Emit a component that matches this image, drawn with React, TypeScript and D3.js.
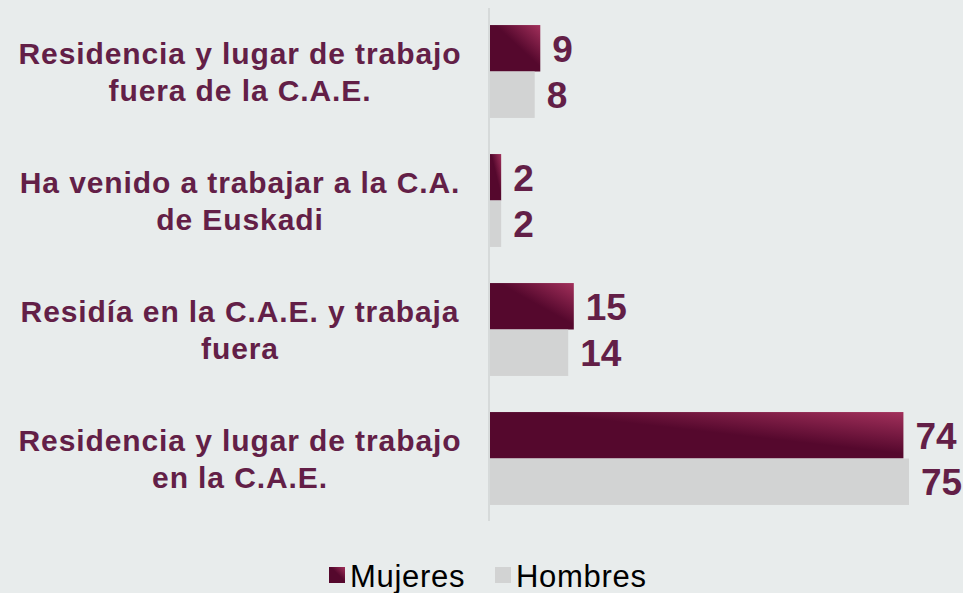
import * as d3 from 'd3';
import { useEffect, useRef } from 'react';

const categories = [
    'Residencia y lugar de trabajo|fuera de la C.A.E.',
    'Ha venido a trabajar a la C.A.|de Euskadi',
    'Residía en la C.A.E. y trabaja|fuera',
    'Residencia y lugar de trabajo|en la C.A.E.',
];
const mujeres = [9, 2, 15, 74];
const hombres = [8, 2, 14, 75];
const seriesNames = ['Mujeres', 'Hombres'];

const W = 963;
const H = 593;
const textColor = '#631f47';

export default function App() {
    const svgRef = useRef<SVGSVGElement>(null);

    useEffect(() => {
        const svg = d3.select(svgRef.current);
        svg.selectAll('*').remove();

        const defs = svg.append('defs');
        const grad = defs.append('linearGradient')
            .attr('id', 'mujGrad')
            .attr('x1', 0).attr('y1', 1).attr('x2', 1).attr('y2', 0);
        grad.append('stop').attr('offset', '0').attr('stop-color', '#55082d');
        grad.append('stop').attr('offset', '0.55').attr('stop-color', '#55082d');
        grad.append('stop').attr('offset', '1').attr('stop-color', '#a2305b');

        svg.append('rect').attr('width', W).attr('height', H).attr('fill', '#e8ecec');

        const x0 = 490;
        const x = d3.scaleLinear().domain([0, 75]).range([x0, 909]);
        const y = d3.scaleBand<number>()
            .domain(d3.range(categories.length))
            .range([7, 523])
            .paddingInner(0.28)
            .paddingOuter(0.14);
        const sub = d3.scaleBand<number>().domain([0, 1]).range([0, y.bandwidth()]);

        svg.append('line')
            .attr('x1', x0 - 1).attr('x2', x0 - 1)
            .attr('y1', 8).attr('y2', 521)
            .attr('stroke', '#d6dada').attr('stroke-width', 2);

        const series = [mujeres, hombres];
        const fills = ['url(#mujGrad)', '#d2d3d3'];

        series.forEach((vals, si) => {
            svg.append('g').selectAll('rect')
                .data(vals)
                .enter()
                .append('rect')
                .attr('x', x0)
                .attr('y', (_, i) => (y(i) || 0) + (sub(si) || 0))
                .attr('width', (d) => x(d) - x0)
                .attr('height', sub.bandwidth())
                .attr('fill', fills[si]);

            svg.append('g').selectAll('text')
                .data(vals)
                .enter()
                .append('text')
                .attr('x', (d) => x(d) + 12)
                .attr('y', (_, i) => (y(i) || 0) + (sub(si) || 0) + sub.bandwidth() / 2)
                .attr('dy', '0.36em')
                .style('font-family', 'Liberation Sans, Arial, sans-serif')
                .style('font-size', '37px')
                .style('font-weight', '700')
                .attr('fill', textColor)
                .text((d) => String(d));
        });

        const labels = svg.append('g');
        categories.forEach((c, i) => {
            const lines = c.split('|');
            const cy = (y(i) || 0) + y.bandwidth() / 2;
            const t = labels.append('text')
                .attr('text-anchor', 'middle')
                .style('font-family', 'Liberation Sans, Arial, sans-serif')
                .style('font-size', '30px')
                .style('font-weight', '700')
                .style('letter-spacing', '0.9px')
                .attr('fill', textColor);
            lines.forEach((ln, li) => {
                t.append('tspan')
                    .attr('x', 240)
                    .attr('y', cy + (li - (lines.length - 1) / 2) * 37)
                    .attr('dy', '0.36em')
                    .text(ln);
            });
        });

        const legend = svg.append('g');
        const legX = [329, 495];
        seriesNames.forEach((name, i) => {
            legend.append('rect')
                .attr('x', legX[i]).attr('y', 567)
                .attr('width', 16).attr('height', 16)
                .attr('fill', fills[i]);
            legend.append('text')
                .attr('x', legX[i] + 21)
                .attr('y', 587)
                .style('font-family', 'Liberation Sans, Arial, sans-serif')
                .style('font-size', '31px')
                .style('letter-spacing', '0.7px')
                .attr('fill', '#000')
                .text(name);
        });
    }, []);

    return (
        <svg ref={svgRef} width={W} height={H} style={{ position: 'absolute', left: 0, top: 0 }}></svg>
    );
}
